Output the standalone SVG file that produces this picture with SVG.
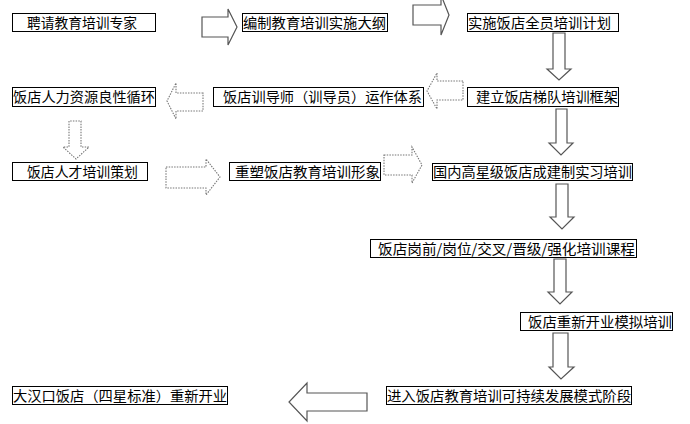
<svg xmlns="http://www.w3.org/2000/svg" width="690" height="424" viewBox="0 0 690 424">
<defs>
<style>
.box{fill:#fff;stroke:#000;stroke-width:1}
.t{font-family:"Noto Sans CJK SC","Liberation Sans",sans-serif;font-size:14px;fill:#000}
.sa{fill:#fff;stroke:#555;stroke-width:1.2;stroke-linejoin:miter}
.da{fill:#fff;stroke:#777;stroke-width:1.1;stroke-dasharray:1.5 1.2}
</style>
</defs>
<rect width="690" height="424" fill="#fff"/>
<g id="connectors">
<path class="sa" d="M202,17 H228 V9 L237,27 L228,45 V37 H202 Z"/>
<path class="sa" d="M413,5 H441 V-5 L449,15 L441,35 V25 H413 Z"/>
<path class="sa" d="M553,33 V69 H547 L559,80 L571,69 H565 V33 Z"/>
<path class="da" d="M463,81 H437 V73 L427,91 L437,109 V100 H463 Z"/>
<path class="da" d="M203,93 H176 V83 L167,101 L176,119 V111 H203 Z"/>
<path class="da" d="M69,121 V147 H63 L76,159 L89,147 H81 V121 Z"/>
<path class="da" d="M166,167 H206 V159 L220,177 L206,195 V188 H166 Z"/>
<path class="da" d="M384,155 H412 V147 L422,165 L412,183 V175 H384 Z"/>
<path class="sa" d="M556,109 V143 H549 L561,155 L573,143 H567 V109 Z"/>
<path class="sa" d="M556,184 V217 H550 L562,229 L574,217 H568 V184 Z"/>
<path class="sa" d="M554,259 V292 H548 L560,304 L572,292 H566 V259 Z"/>
<path class="sa" d="M553,333 V367 H549 L561,379 L574,367 H568 V333 Z"/>
<path class="sa" d="M367,393 H307 V383 L289,402 L307,421 V411 H367 Z"/>
</g>
<g id="n1"><rect class="box" x="12.5" y="13.5" width="143" height="18"/><text class="t" x="27" y="28" textLength="110" lengthAdjust="spacingAndGlyphs">聘请教育培训专家</text></g>
<g id="n2"><rect class="box" x="242.5" y="13.5" width="145" height="18"/><text class="t" x="243" y="28" textLength="143" lengthAdjust="spacingAndGlyphs">编制教育培训实施大纲</text></g>
<g id="n3"><rect class="box" x="467.5" y="13.5" width="151" height="18"/><text class="t" x="468" y="28" textLength="143" lengthAdjust="spacingAndGlyphs">实施饭店全员培训计划</text></g>
<g id="n4"><rect class="box" x="467.5" y="87.5" width="151" height="19"/><text class="t" x="476" y="102" textLength="142" lengthAdjust="spacingAndGlyphs">建立饭店梯队培训框架</text></g>
<g id="n5"><rect class="box" x="213.5" y="87.5" width="210" height="19"/><text class="t" x="223" y="102" textLength="199" lengthAdjust="spacingAndGlyphs">饭店训导师（训导员）运作体系</text></g>
<g id="n6"><rect class="box" x="12.5" y="87.5" width="143" height="19"/><text class="t" x="13" y="102" textLength="142" lengthAdjust="spacingAndGlyphs">饭店人力资源良性循环</text></g>
<g id="n7"><rect class="box" x="12.5" y="162.5" width="135" height="18"/><text class="t" x="27" y="177" textLength="111" lengthAdjust="spacingAndGlyphs">饭店人才培训策划</text></g>
<g id="n8"><rect class="box" x="229.5" y="162.5" width="151" height="18"/><text class="t" x="235" y="177" textLength="145" lengthAdjust="spacingAndGlyphs">重塑饭店教育培训形象</text></g>
<g id="n9"><rect class="box" x="432.5" y="163.5" width="200" height="17"/><text class="t" x="433" y="177" textLength="199" lengthAdjust="spacingAndGlyphs">国内高星级饭店成建制实习培训</text></g>
<g id="n10"><rect class="box" x="370.5" y="239.5" width="266" height="18"/><text class="t" x="378" y="254" textLength="257" lengthAdjust="spacingAndGlyphs">饭店岗前/岗位/交叉/晋级/强化培训课程</text></g>
<g id="n11"><rect class="box" x="520.5" y="312.5" width="152" height="18"/><text class="t" x="528" y="327" textLength="144" lengthAdjust="spacingAndGlyphs">饭店重新开业模拟培训</text></g>
<g id="n12"><rect class="box" x="386.5" y="386.5" width="245" height="18"/><text class="t" x="387" y="401" textLength="244" lengthAdjust="spacingAndGlyphs">进入饭店教育培训可持续发展模式阶段</text></g>
<g id="n13"><rect class="box" x="12.5" y="386.5" width="215" height="18"/><text class="t" x="13" y="401" textLength="214" lengthAdjust="spacingAndGlyphs">大汉口饭店（四星标准）重新开业</text></g>
</svg>
